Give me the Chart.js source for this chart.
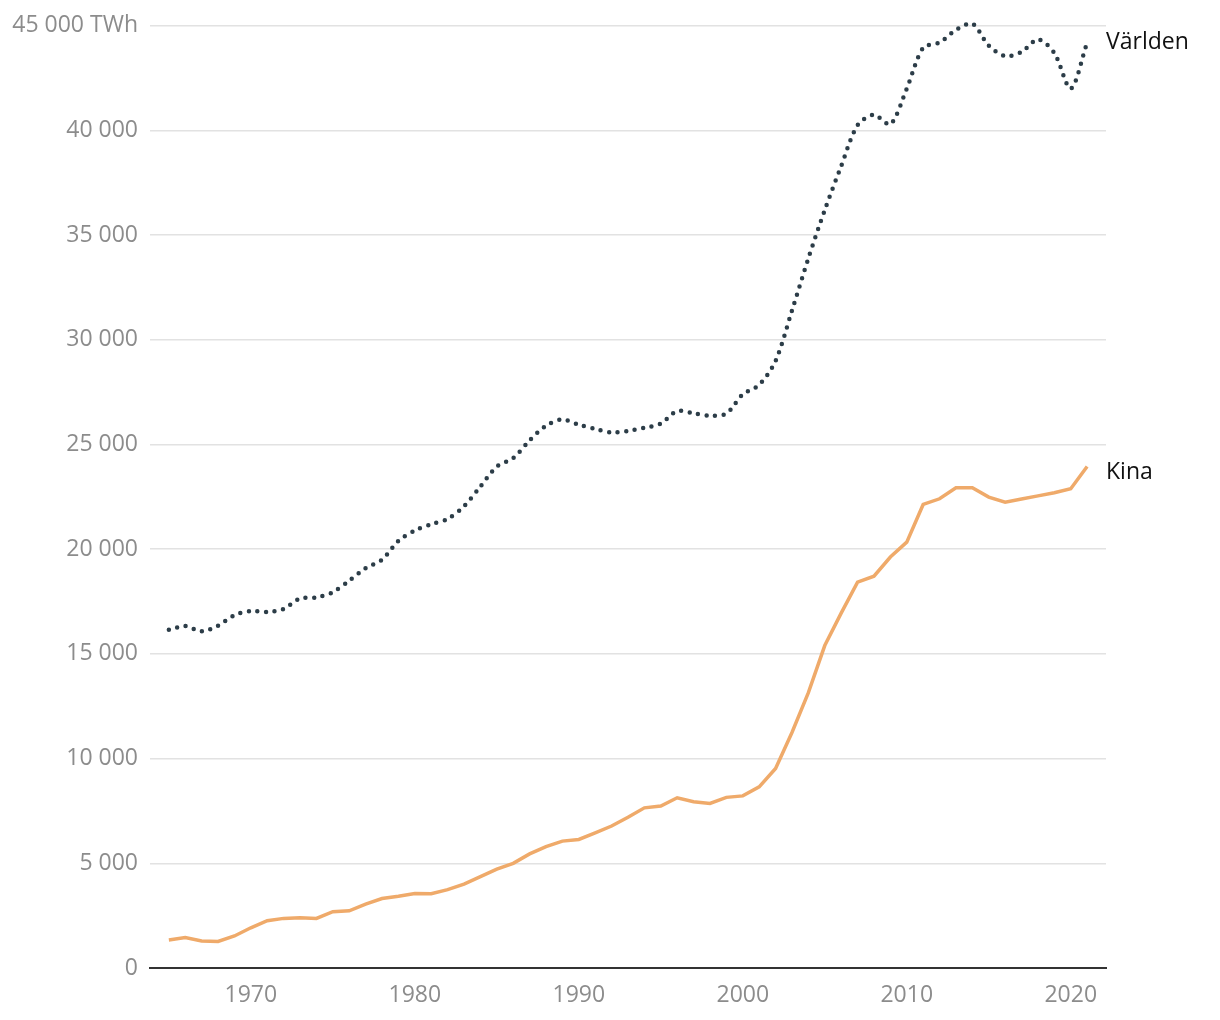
<!DOCTYPE html>
<html lang="sv">
<head>
<meta charset="utf-8">
<title>Världen och Kina, TWh</title>
<script src="https://cdn.jsdelivr.net/npm/chart.js@4.4.1/dist/chart.umd.min.js"></script>
<style>
  html, body { margin: 0; padding: 0; background: #fff; }
  #wrap { width: 1220px; height: 1020px; }
</style>
</head>
<body>
<div id="wrap"><canvas id="chart" width="1220" height="1020"></canvas></div>
<script>
// Data
var years = [1965, 1966, 1967, 1968, 1969, 1970, 1971, 1972, 1973, 1974,
  1975, 1976, 1977, 1978, 1979, 1980, 1981, 1982, 1983, 1984,
  1985, 1986, 1987, 1988, 1989, 1990, 1991, 1992, 1993, 1994,
  1995, 1996, 1997, 1998, 1999, 2000, 2001, 2002, 2003, 2004,
  2005, 2006, 2007, 2008, 2009, 2010, 2011, 2012, 2013, 2014,
  2015, 2016, 2017, 2018, 2019, 2020, 2021];

var varlden = [16150, 16330, 16080, 16350, 16850, 17050, 17000, 17150, 17650, 17700,
  17950, 18500, 19100, 19500, 20400, 20900, 21200, 21450, 22050, 23000,
  23950, 24350, 25200, 25900, 26200, 25950, 25750, 25580, 25650, 25800,
  26000, 26600, 26500, 26380, 26480, 27400, 27850, 29000, 31400, 33900,
  36200, 38300, 40250, 40750, 40300, 42000, 43950, 44200, 44800, 45100,
  44050, 43550, 43750, 44350, 43700, 42000, 44200];

var kina = [1340, 1450, 1290, 1270, 1530, 1920, 2260, 2370, 2400, 2370,
  2690, 2730, 3050, 3320, 3430, 3560, 3550, 3740, 4010, 4360,
  4720, 5000, 5450, 5800, 6060, 6140, 6450, 6780, 7200, 7650,
  7740, 8130, 7940, 7860, 8150, 8220, 8650, 9530, 11250, 13150,
  15400, 16950, 18430, 18710, 19630, 20340, 22140, 22410, 22940, 22940,
  22490, 22250, 22400, 22550, 22700, 22890, 23950];

var xTicks = [1970, 1980, 1990, 2000, 2010, 2020];
var seriesNames = ["Världen", "Kina"];

function points(values) {
  return values.map(function (v, i) {
    return { x: years[i], y: v };
  });
}

function fmt(v) {
  return String(v).replace(/\B(?=(\d{3})+(?!\d))/g, " ");
}

// Namn vid slutet av linjerna
var endLabels = {
  id: "endLabels",
  afterDatasetsDraw: function (chart) {
    var ctx = chart.ctx;
    var offsets = [0, 6];
    ctx.save();
    ctx.font = "23px 'Open Sans'";
    ctx.fillStyle = "#111";
    ctx.textBaseline = "middle";
    ctx.textAlign = "left";
    chart.data.datasets.forEach(function (ds, i) {
      var meta = chart.getDatasetMeta(i);
      var last = meta.data[meta.data.length - 1];
      ctx.fillText(ds.label, chart.chartArea.right, last.y + offsets[i]);
    });
    ctx.restore();
  }
};

var ctx = document.getElementById("chart").getContext("2d");
var myChart = new Chart(ctx, {
  type: "line",
  data: {
    datasets: [
      {
        label: seriesNames[0],
        data: points(varlden),
        borderColor: "#2c3d48",
        borderWidth: 4.5,
        borderDash: [0, 8.6],
        borderCapStyle: "round",
        tension: 0.3,
        pointRadius: 0,
        fill: false,
        clip: false,
      },
      {
        label: seriesNames[1],
        data: points(kina),
        borderColor: "#efaa6a",
        borderWidth: 3.5,
        tension: 0,
        pointRadius: 0,
        fill: false,
      },
    ],
  },
  options: {
    responsive: false,
    animation: false,
    layout: { padding: { top: 25, right: 114, left: 0, bottom: 0 } },
    plugins: {
      legend: { display: false },
      tooltip: { enabled: false },
    },
    scales: {
      x: {
        type: "linear",
        min: 1963.85,
        max: 2022.15,
        grid: { display: false, drawTicks: false },
        border: { display: true, color: "#333", width: 2 },
        afterBuildTicks: function (scale) {
          scale.ticks = xTicks.map(function (v) { return { value: v }; });
        },
        afterFit: function (scale) { scale.height = 52; },
        ticks: {
          padding: 14,
          maxRotation: 0,
          color: "#8c8c8c",
          font: { family: "'Open Sans'", size: 23 },
          callback: function (v) { return String(v); },
        },
      },
      y: {
        min: 0,
        max: 45000,
        grid: { color: "#e2e2e2", lineWidth: 1.5, drawTicks: false },
        border: { display: false },
        afterFit: function (scale) { scale.width = 150; },
        ticks: {
          stepSize: 5000,
          padding: 12,
          color: "#8c8c8c",
          font: { family: "'Open Sans'", size: 23 },
          callback: function (v) {
            return v === 45000 ? fmt(v) + " TWh" : fmt(v);
          },
        },
      },
    },
  },
  plugins: [endLabels],
});
</script>
</body>
</html>
